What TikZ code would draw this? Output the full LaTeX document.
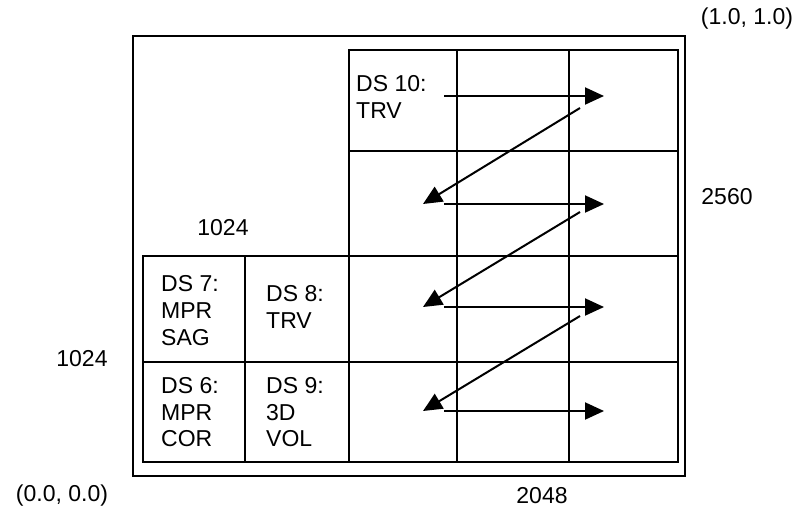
\documentclass[tikz,border=0pt]{standalone}
\usepackage{fontspec}
\setmainfont{Liberation Sans}
\usetikzlibrary{arrows.meta}
\begin{document}
\begin{tikzpicture}[x=1pt,y=-1pt,
  lbl/.style={inner sep=0pt, font=\fontsize{23}{26.7}\selectfont},
  celltxt/.style={lbl, anchor=base west},
  gridline/.style={line width=1.8pt},
  arr/.style={line width=2pt, -{Triangle[length=19pt,width=17pt]}}]
\useasboundingbox (0,0) rectangle (797,509);
% outer frame
\draw[gridline] (133,36) rectangle (685,476);
% right 3x4 grid
\draw[gridline] (349,50) rectangle (678,462);
\draw[gridline] (457,50) -- (457,462);
\draw[gridline] (569,50) -- (569,462);
\draw[gridline] (349,151) -- (678,151);
\draw[gridline] (143,256) -- (678,256);
\draw[gridline] (143,362) -- (678,362);
% left 2x2 block
\draw[gridline] (143,256) rectangle (349,462);
\draw[gridline] (245,256) -- (245,462);
% cell texts
\node[celltxt] (ds10) at (356,91.7) {\vtop{\hbox{DS 10:}\hbox{TRV}}};
\node[celltxt] (ds7) at (161,291.7) {\vtop{\hbox{DS 7:}\hbox{MPR}\hbox{SAG}}};
\node[celltxt] (ds8) at (266,301.7) {\vtop{\hbox{DS 8:}\hbox{TRV}}};
\node[celltxt] (ds6) at (161,393.3) {\vtop{\hbox{DS 6:}\hbox{MPR}\hbox{COR}}};
\node[celltxt] (ds9) at (266,393.3) {\vtop{\hbox{DS 9:}\hbox{3D}\hbox{VOL}}};
% outer labels
\node[lbl] (c11) at (747,19) {(1.0, 1.0)};
\node[lbl] (h2560) at (727,197) {2560};
\node[lbl] (w1024) at (223,228) {1024};
\node[lbl] (h1024) at (82,359) {1024};
\node[lbl] (c00) at (62,496) {(0.0, 0.0)};
\node[lbl] (w2048) at (542,496) {2048};
% arrow end points
\coordinate (h1s) at (444,96);  \coordinate (h1e) at (604,96);
\coordinate (h2s) at (444,204); \coordinate (h2e) at (604,204);
\coordinate (h3s) at (444,307); \coordinate (h3e) at (604,307);
\coordinate (h4s) at (444,411); \coordinate (h4e) at (604,411);
\coordinate (d1s) at (580,108); \coordinate (d1e) at (423,204);
\coordinate (d2s) at (580,212); \coordinate (d2e) at (423,307);
\coordinate (d3s) at (580,316); \coordinate (d3e) at (423,411);
% arrows
\draw[arr] (h1s) -- (h1e);
\draw[arr] (d1s) -- (d1e);
\draw[arr] (h2s) -- (h2e);
\draw[arr] (d2s) -- (d2e);
\draw[arr] (h3s) -- (h3e);
\draw[arr] (d3s) -- (d3e);
\draw[arr] (h4s) -- (h4e);
\end{tikzpicture}
\end{document}
